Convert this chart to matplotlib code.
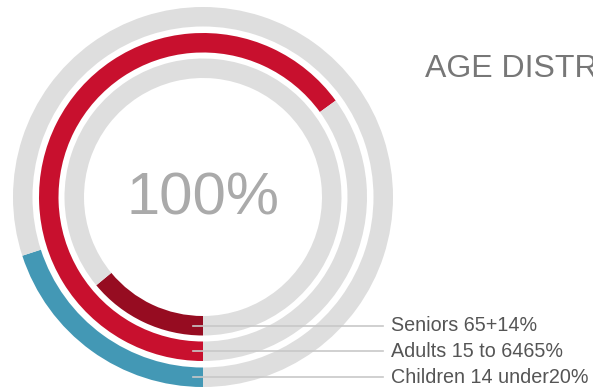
import matplotlib.pyplot as plt

plt.rcParams['font.family'] = ['Liberation Sans', 'DejaVu Sans']

# data
labels = ['Seniors 65+', 'Adults 15 to 64', 'Children 14 under']
values = [14, 65, 20]
colors = ['#960c21', '#c8102e', '#4398b5']
total_label = '100%'
title = 'AGE DISTRIBUTION'

W, H = 593, 389
cx, cy = 203, H - 197
radii = [138.5, 164, 190]   # inner -> outer
ring_w = 19.5
track = '#dedede'

fig = plt.figure(figsize=(W / 100, H / 100), dpi=100)
ax = fig.add_axes([0, 0, 1, 1])

for lab, val, col, r in zip(labels, values, colors, radii):
    ax.pie([val, 100 - val], colors=[col, track], radius=r, center=(cx, cy),
           startangle=-90, counterclock=False,
           wedgeprops=dict(width=ring_w, linewidth=0))
    # leader line + label
    y = cy - (r - ring_w / 2)
    ax.plot([cx - 10, 383], [y, y], color='#c8c8c8', lw=1.2)
    ax.text(391, y, f'{lab}{val}%', fontsize=14.2,
            color='#555555', va='center', ha='left')

ax.text(cx, cy - 2, total_label, fontsize=43, color='#aaaaaa',
        ha='center', va='center')
ax.text(425, H - 69, title, fontsize=23, color='#777777',
        ha='left', va='center')

ax.set_xlim(0, W)
ax.set_ylim(0, H)
ax.set_aspect('equal')
ax.axis('off')

plt.savefig('out.png', dpi=100)
